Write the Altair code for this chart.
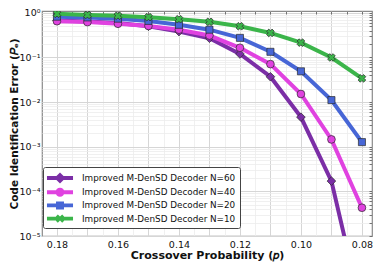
import altair as alt
import pandas as pd
import math

p = [0.18, 0.17, 0.16, 0.15, 0.14, 0.13, 0.12, 0.11, 0.10, 0.09, 0.08]
series_names = [
    "Improved M-DenSD Decoder N=60",
    "Improved M-DenSD Decoder N=40",
    "Improved M-DenSD Decoder N=20",
    "Improved M-DenSD Decoder N=10",
]
pe_n60 = [0.67, 0.64, 0.59, 0.50, 0.38, 0.27, 0.12, 0.037, 0.0046, 1.7e-4, 2e-7]
pe_n40 = [0.65, 0.62, 0.57, 0.51, 0.42, 0.31, 0.165, 0.071, 0.0152, 0.00146, 4.3e-5]
pe_n20 = [0.82, 0.79, 0.74, 0.66, 0.54, 0.42, 0.275, 0.134, 0.049, 0.0111, 0.00127]
pe_n10 = [0.95, 0.90, 0.86, 0.80, 0.72, 0.63, 0.50, 0.355, 0.215, 0.10, 0.034]
values = [pe_n60, pe_n40, pe_n20, pe_n10]
colors = ["#7B2EA6", "#E042E0", "#4766D6", "#3BB54A"]
shapes = ["diamond", "circle", "square", "cross"]
angles = [0, 0, 0, 45]
sizes = [75, 60, 50, 60]

x_major = [0.18, 0.17, 0.16, 0.15, 0.14, 0.13, 0.12, 0.11, 0.10, 0.09, 0.08]
x_minor = [0.185, 0.18, 0.175, 0.17, 0.165, 0.16, 0.155, 0.15, 0.145, 0.14, 0.135, 0.13,
           0.125, 0.12, 0.115, 0.11, 0.105, 0.10, 0.095, 0.09, 0.085, 0.08]
y_major = [1, 0.1, 0.01, 0.001, 0.0001, 0.00001]
y_minor = [m * d for d in [1e-5, 1e-4, 1e-3, 1e-2, 1e-1] for m in range(1, 11)]

rows = []
for name, vals in zip(series_names, values):
    for xv, yv in zip(p, vals):
        rows.append({"p": xv, "pe": yv, "series": name})
df = pd.DataFrame(rows)

xscale = alt.Scale(domain=[0.0767, 0.1849], reverse=True, nice=False, zero=False)
yscale = alt.Scale(type="log", domain=[1e-5, 1.1], nice=False)

FONT = "DejaVu Sans"


# legend symbol paths: a thick line with the marker in the middle
def rect_path(hw, ht):
    return f"M{-hw},{-ht}L{hw},{-ht}L{hw},{ht}L{-hw},{ht}Z"


HW, HT = 1.86, 0.28
diamond_p = "M0,-0.8L0.8,0L0,0.8L-0.8,0Z"
circle_p = "M0.64,0A0.64,0.64 0 1,1 -0.64,0A0.64,0.64 0 1,1 0.64,0Z"
square_p = "M-0.57,-0.57L0.57,-0.57L0.57,0.57L-0.57,0.57Z"
a, t = 0.64, 0.2
plus = [(t, -a), (t, -t), (a, -t), (a, t), (t, t), (t, a), (-t, a), (-t, t), (-a, t), (-a, -t), (-t, -t), (-t, -a)]
rot = [((x - y) / math.sqrt(2), (x + y) / math.sqrt(2)) for x, y in plus]
x_p = "M" + "L".join(f"{x:.3f},{y:.3f}" for x, y in rot) + "Z"
legend_shapes = [rect_path(HW, HT) + m for m in [diamond_p, circle_p, square_p, x_p]]

legend_def = dict(title=None, orient="none", legendX=1, legendY=156,
                  symbolOpacity=1, symbolSize=196, symbolStrokeWidth=0,
                  symbolOffset=6, labelOffset=15,
                  labelFont=FONT, labelFontSize=8.8, labelColor="#111",
                  rowPadding=1.2, padding=4,
                  strokeColor="#444", fillColor="white", cornerRadius=2)

base = alt.Chart(df)

legend_layer = base.mark_point(filled=True, opacity=0, size=196).encode(
    x=alt.X("p:Q", scale=xscale,
            axis=alt.Axis(orient="top", values=x_minor, labels=False, title=None,
                          grid=True, gridColor="#ececec", gridWidth=0.8,
                          ticks=True, tickSize=3, tickColor="#555", tickWidth=0.8,
                          offset=-3, domain=False)),
    y=alt.Y("pe:Q", scale=yscale,
            axis=alt.Axis(orient="right", values=y_minor, labels=False, title=None,
                          grid=True, gridColor="#ececec", gridWidth=0.8,
                          ticks=True, tickSize=3, tickColor="#555", tickWidth=0.8,
                          offset=-3, domain=False)),
    color=alt.Color("series:N", scale=alt.Scale(domain=series_names, range=colors),
                    legend=alt.Legend(**legend_def)),
    shape=alt.Shape("series:N", scale=alt.Scale(domain=series_names, range=legend_shapes),
                    legend=alt.Legend(**legend_def)),
)

layers = [legend_layer]
label_expr_y = "['10⁰','10⁻¹','10⁻²','10⁻³','10⁻⁴','10⁻⁵'][round(-log(datum.value)/LN10)]"
label_expr_x = "round(datum.value*100) % 2 == 0 ? format(datum.value, '.2f') : ''"

for i, name in enumerate(series_names):
    sub = base.transform_filter(alt.datum.series == name)
    if i == 0:
        xa = alt.Axis(orient="bottom", values=x_major, labelExpr=label_expr_x,
                      title="Crossover Probability (𝑝)", grid=True, gridColor="#d6d6d6",
                      gridWidth=1, ticks=False, domain=False, labelPadding=3,
                      labelFont=FONT, labelFontSize=9.5, labelColor="#111",
                      titleFont=FONT, titleFontSize=11, titleFontWeight="bold",
                      titleColor="#111", titlePadding=1, labelFlush=False)
        ya = alt.Axis(orient="left", values=y_major, labelExpr=label_expr_y,
                      title="Code Identification Error (𝑃ₑ)", grid=True, gridColor="#d6d6d6",
                      gridWidth=1, ticks=False, domain=False, labelPadding=2,
                      labelFont=FONT, labelFontSize=9.5, labelColor="#111",
                      titleFont=FONT, titleFontSize=10.5, titleFontWeight="bold",
                      titleColor="#111", titlePadding=0, labelFlush=False)
    else:
        xa = None
        ya = None
    line = sub.mark_line(color=colors[i], strokeWidth=4, clip=True).encode(
        x=alt.X("p:Q", scale=xscale, axis=xa),
        y=alt.Y("pe:Q", scale=yscale, axis=ya),
        order="p:Q",
    )
    pts = sub.mark_point(shape=shapes[i], filled=True, fill=colors[i], size=sizes[i],
                         stroke="#2b2b2b", strokeWidth=0.7, opacity=1, angle=angles[i],
                         clip=True).encode(
        x=alt.X("p:Q", scale=xscale, axis=None),
        y=alt.Y("pe:Q", scale=yscale, axis=None),
    )
    layers += [line, pts]

chart = alt.layer(*layers).resolve_axis(x="independent", y="independent").properties(
    width=330, height=225,
    autosize=alt.AutoSizeParams(type="none"),
    padding={"left": 34, "top": 3, "right": 1, "bottom": 28},
).configure_view(stroke="#8a8a8a", strokeWidth=1.2)

chart.save("out.html", embed_options={"renderer": "svg", "actions": False})
